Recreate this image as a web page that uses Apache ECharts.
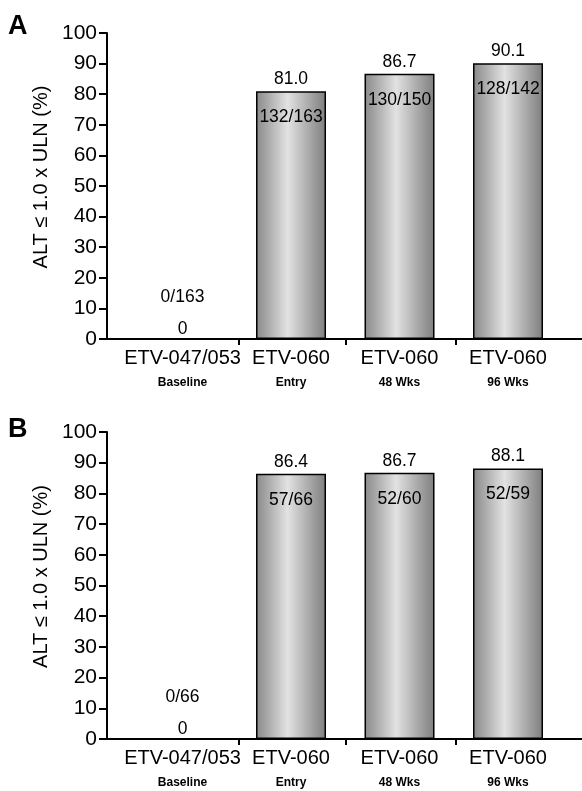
<!DOCTYPE html>
<html>
<head>
<meta charset="utf-8">
<script src="https://cdn.jsdelivr.net/npm/echarts@6/dist/echarts.min.js"></script>
<style>
html,body{margin:0;padding:0;background:#fff;}
#c{width:582px;height:791px;}
</style>
</head>
<body>
<div id="c"></div>
<script>
const categories = ['ETV-047/053', 'ETV-060', 'ETV-060', 'ETV-060'];
const subLabels = ['Baseline', 'Entry', '48 Wks', '96 Wks'];
const valuesA = [0, 81.0, 86.7, 90.1];
const fractionsA = ['0/163', '132/163', '130/150', '128/142'];
const valuesB = [0, 86.4, 86.7, 88.1];
const fractionsB = ['0/66', '57/66', '52/60', '52/59'];
const yTicks = [0, 10, 20, 30, 40, 50, 60, 70, 80, 90, 100];
const yName = 'ALT \u2264 1.0 x ULN (%)';

const FONT = '"Liberation Sans", Arial, Helvetica, sans-serif';
const chart = echarts.init(document.getElementById('c'), null, {renderer: 'canvas'});

const barFill = new echarts.graphic.LinearGradient(0, 0, 1, 0, [
  {offset: 0, color: '#8a8a8a'},
  {offset: 0.15, color: '#a6a6a6'},
  {offset: 0.45, color: '#e2e2e2'},
  {offset: 0.8, color: '#a2a2a2'},
  {offset: 1, color: '#7e7e7e'}
]);

function xAxisFor(gi) {
  return {
    type: 'value', gridIndex: gi, min: -0.696, max: 3.682,
    axisLine: {show: true, onZero: false, lineStyle: {color: '#000', width: 2}},
    axisTick: {show: true, customValues: [0.52, 1.5, 2.52], length: 6, lineStyle: {color: '#000', width: 2}},
    splitLine: {show: false},
    axisLabel: {
      customValues: [0, 1, 2, 3], margin: 8, color: '#000', fontFamily: FONT,
      formatter: v => { const i = Math.round(v); return '{a|' + categories[i] + '}\n{b|' + subLabels[i] + '}'; },
      rich: {
        a: {fontSize: 20, lineHeight: 22, fontFamily: FONT, color: '#000'},
        b: {fontSize: 12, lineHeight: 27, fontWeight: 'bold', fontFamily: FONT, color: '#000'}
      }
    }
  };
}
function yAxisFor(gi) {
  return {
    type: 'value', gridIndex: gi, min: yTicks[0], max: yTicks[yTicks.length - 1], interval: 10,
    name: yName, nameLocation: 'middle', nameGap: 55,
    nameTextStyle: {fontSize: 20, color: '#000', fontFamily: FONT, padding: [0, 0, 0, 18]},
    axisLine: {show: true, onZero: false, lineStyle: {color: '#000', width: 2}},
    axisTick: {show: true, length: 8, lineStyle: {color: '#000', width: 2}},
    splitLine: {show: false},
    axisLabel: {fontSize: 21, color: '#000', margin: 10, fontFamily: FONT}
  };
}
function seriesFor(gi, values, fractions) {
  return [
    {
      type: 'bar', xAxisIndex: gi, yAxisIndex: gi, barWidth: 70, barGap: '-100%',
      data: values.map((v, i) => ({
        value: [i, v],
        label: {distance: i === 0 ? 0 : 3}
      })),
      itemStyle: {color: barFill, borderColor: '#000', borderWidth: 1.5},
      label: {
        show: true, position: 'top', fontSize: 17.5, color: '#000', fontFamily: FONT,
        formatter: p => p.value[1] === 0 ? '0' : p.value[1].toFixed(1)
      },
      z: 2
    },
    {
      type: 'bar', xAxisIndex: gi, yAxisIndex: gi, barWidth: 70, barGap: '-100%',
      data: values.map((v, i) => ({
        value: [i, v],
        label: {position: i === 0 ? 'top' : 'insideTop', distance: i === 0 ? 33 : 17}
      })),
      itemStyle: {color: 'rgba(0,0,0,0)', borderWidth: 0},
      label: {
        show: true, fontSize: 17.5, color: '#000', fontFamily: FONT,
        formatter: p => fractions[p.dataIndex]
      },
      z: 3
    }
  ];
}

chart.setOption({
  animation: false,
  backgroundColor: '#fff',
  title: [
    {text: 'A', left: 3, top: 8, textStyle: {fontSize: 27, fontWeight: 'bold', color: '#000', fontFamily: FONT}},
    {text: 'B', left: 3, top: 411, textStyle: {fontSize: 27, fontWeight: 'bold', color: '#000', fontFamily: FONT}}
  ],
  grid: [
    {left: 107, right: 0, top: 33, height: 306, outerBoundsMode: 'none'},
    {left: 107, right: 0, top: 432, height: 307, outerBoundsMode: 'none'}
  ],
  xAxis: [xAxisFor(0), xAxisFor(1)],
  yAxis: [yAxisFor(0), yAxisFor(1)],
  series: [].concat(seriesFor(0, valuesA, fractionsA), seriesFor(1, valuesB, fractionsB))
});
</script>
</body>
</html>
